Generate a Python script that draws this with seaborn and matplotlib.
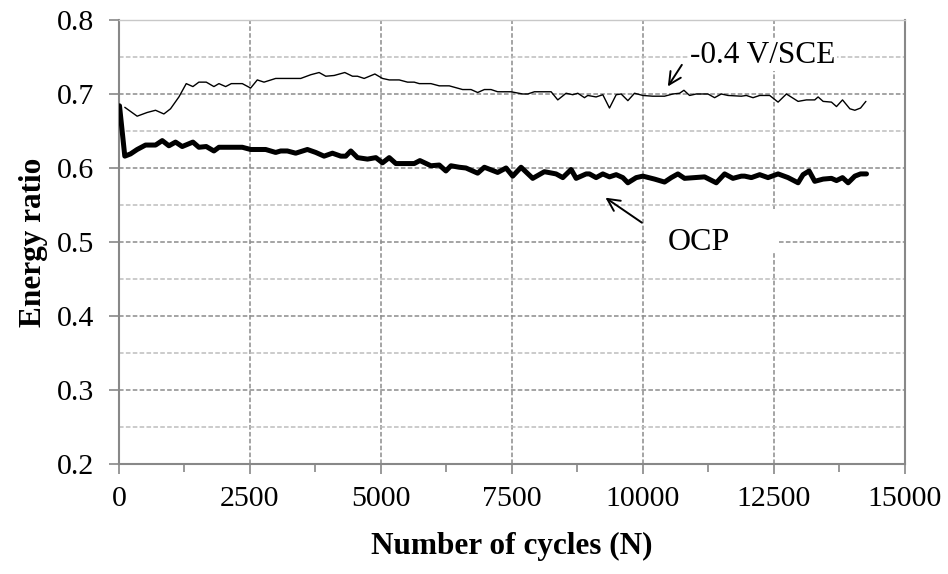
"""Energy ratio versus number of cycles for OCP and -0.4 V/SCE."""
import matplotlib.pyplot as plt
import numpy as np
import pandas as pd
import seaborn as sns
from matplotlib.patches import Rectangle
from matplotlib.ticker import MultipleLocator

# -0.4 V/SCE series (thin line)
cycles_cathodic = [
    111, 347, 538, 698, 857, 984, 1144, 1284, 1411, 1525, 1666, 1812, 1908, 2036,
    2144, 2354, 2513, 2640, 2768, 2991, 3023, 3469, 3660, 3820, 3947, 4107, 4310,
    4457, 4552, 4680, 4884, 5030, 5158, 5349, 5508, 5635, 5731, 5954, 6113, 6304,
    6559, 6719, 6846, 6974, 7101, 7228, 7483, 7706, 7802, 7929, 8248, 8375, 8534,
    8662, 8757, 8885, 8948, 9107, 9235, 9362, 9490, 9585, 9713, 9840, 9999, 10190,
    10413, 10572, 10700, 10783, 10891, 11018, 11241, 11369, 11496, 11624, 11879,
    11974, 12102, 12229, 12420, 12580, 12739, 12962, 13121, 13280, 13344, 13440,
    13599, 13695, 13810, 13950, 14045, 14154, 14256,
]
ratio_cathodic = [
    0.682, 0.670, 0.675, 0.678, 0.673, 0.680, 0.696, 0.714, 0.710, 0.716, 0.716,
    0.710, 0.714, 0.710, 0.714, 0.714, 0.708, 0.719, 0.716, 0.721, 0.721, 0.721,
    0.726, 0.729, 0.724, 0.725, 0.729, 0.724, 0.724, 0.721, 0.727, 0.721, 0.719,
    0.719, 0.716, 0.716, 0.714, 0.714, 0.711, 0.711, 0.706, 0.706, 0.702, 0.706,
    0.706, 0.703, 0.703, 0.700, 0.700, 0.703, 0.703, 0.692, 0.701, 0.699, 0.701,
    0.695, 0.698, 0.696, 0.699, 0.681, 0.699, 0.700, 0.691, 0.701, 0.698, 0.697,
    0.697, 0.700, 0.701, 0.705, 0.698, 0.700, 0.700, 0.695, 0.700, 0.698, 0.697,
    0.698, 0.695, 0.698, 0.698, 0.689, 0.700, 0.690, 0.692, 0.692, 0.696, 0.690,
    0.689, 0.683, 0.692, 0.680, 0.678, 0.681, 0.690,
]

# OCP series (thick line)
cycles_ocp = [
    10, 111, 220, 347, 507, 698, 826, 953, 1080, 1207, 1411, 1525, 1666, 1812,
    1908, 2036, 2354, 2513, 2800, 2991, 3087, 3214, 3373, 3596, 3756, 3915, 4074,
    4234, 4329, 4425, 4552, 4743, 4903, 5030, 5158, 5285, 5635, 5744, 5954, 6113,
    6240, 6336, 6495, 6623, 6846, 6974, 7228, 7388, 7515, 7674, 7897, 8120, 8343,
    8471, 8630, 8726, 8917, 8980, 9107, 9235, 9362, 9490, 9617, 9713, 9872, 9999,
    10222, 10413, 10541, 10668, 10795, 10986, 11177, 11400, 11560, 11719, 11879,
    11942, 12070, 12229, 12388, 12580, 12771, 12962, 13057, 13172, 13280, 13440,
    13599, 13695, 13810, 13917, 14045, 14154, 14268,
]
ratio_ocp = [
    0.684, 0.616, 0.619, 0.625, 0.631, 0.631, 0.637, 0.630, 0.635, 0.629, 0.635,
    0.628, 0.629, 0.623, 0.628, 0.628, 0.628, 0.625, 0.625, 0.621, 0.623, 0.623,
    0.620, 0.625, 0.621, 0.616, 0.620, 0.616, 0.616, 0.623, 0.614, 0.612, 0.614,
    0.607, 0.614, 0.606, 0.606, 0.610, 0.603, 0.604, 0.596, 0.603, 0.601, 0.600,
    0.593, 0.601, 0.594, 0.600, 0.589, 0.601, 0.586, 0.595, 0.592, 0.587, 0.598,
    0.586, 0.592, 0.592, 0.587, 0.592, 0.588, 0.591, 0.587, 0.580, 0.587, 0.589,
    0.585, 0.581, 0.587, 0.592, 0.586, 0.587, 0.588, 0.580, 0.592, 0.586, 0.589,
    0.589, 0.587, 0.591, 0.587, 0.592, 0.587, 0.580, 0.591, 0.596, 0.582, 0.585,
    0.586, 0.583, 0.587, 0.580, 0.589, 0.592, 0.592,
]

cathodic_df = pd.DataFrame({"cycles": cycles_cathodic, "ratio": ratio_cathodic})
ocp_df = pd.DataFrame({"cycles": cycles_ocp, "ratio": ratio_ocp})

sns.set_style("white")
plt.rcParams["font.family"] = ["Liberation Serif", "DejaVu Serif"]
plt.rcParams["text.color"] = "black"
plt.rcParams["axes.labelcolor"] = "black"
plt.rcParams["xtick.color"] = "black"
plt.rcParams["ytick.color"] = "black"

fig = plt.figure(figsize=(9.48, 5.74), dpi=100)
ax = fig.add_axes([0.1255, 0.1916, 0.829, 0.7736])

# Data lines
sns.lineplot(data=cathodic_df, x="cycles", y="ratio", color="black",
             linewidth=1.0, sort=False, estimator=None, ax=ax, zorder=4)
sns.lineplot(data=ocp_df, x="cycles", y="ratio", color="black",
             linewidth=3.6, sort=False, estimator=None, ax=ax, zorder=4)

# Axis limits and ticks
ax.set_xlim(0, 15000)
ax.set_ylim(0.2, 0.8)
ax.xaxis.set_major_locator(MultipleLocator(2500))
ax.xaxis.set_minor_locator(MultipleLocator(1250))
ax.yaxis.set_major_locator(MultipleLocator(0.1))
ax.yaxis.set_minor_locator(MultipleLocator(0.05))
ax.set_yticklabels([f"{t:.1f}" for t in ax.get_yticks()])

ax.tick_params(axis="both", which="major", direction="out", length=7,
               width=1.2, color="#888888", labelcolor="black", labelsize=21.5)
ax.tick_params(axis="x", which="major", pad=9, bottom=True)
ax.tick_params(axis="y", which="major", pad=11, left=True)
ax.tick_params(axis="x", which="minor", direction="out", length=6,
               width=1.2, color="#888888", bottom=True)
ax.tick_params(axis="y", which="minor", length=0)

# Dashed gridlines
ax.set_axisbelow(True)
ax.grid(which="major", axis="both", color="#8c8c8c", linestyle=(0, (3, 1.5)),
        linewidth=1.1)
ax.grid(which="minor", axis="y", color="#bdbdbd", linestyle=(0, (3, 1.5)),
        linewidth=1.1)

for side in ["left", "bottom", "right"]:
    ax.spines[side].set_color("#888888")
    ax.spines[side].set_linewidth(1.5)
ax.spines["top"].set_color("#c8c8c8")
ax.spines["top"].set_linewidth(1.0)

# Axis labels
ax.set_xlabel("Number of cycles (N)", fontsize=22.5, fontweight="bold",
              color="black", labelpad=14)
ax.set_ylabel("Energy ratio", fontsize=22.5, fontweight="bold",
              color="black", labelpad=6)

# Series labels with arrows
arrow_style = dict(arrowstyle="->", lw=1.4, color="black", mutation_scale=22)
ax.text(10900, 0.752, "-0.4 V/SCE", fontsize=22.5, va="center", ha="left",
        color="black", zorder=5,
        bbox=dict(facecolor="white", edgecolor="none", pad=1))
ax.annotate("", xy=(10447, 0.707), xytext=(10772, 0.7425),
            arrowprops=arrow_style, zorder=5)

ax.add_patch(Rectangle((10100, 0.4874), 2505, 0.057, facecolor="white",
                       edgecolor="none", zorder=2))
ax.text(10480, 0.4996, "OCP", fontsize=23, va="center", ha="left",
        color="black", zorder=5)
ax.annotate("", xy=(9241, 0.562), xytext=(10025, 0.524),
            arrowprops=arrow_style, zorder=5)

fig.savefig("out.png", dpi=100)
plt.close(fig)
